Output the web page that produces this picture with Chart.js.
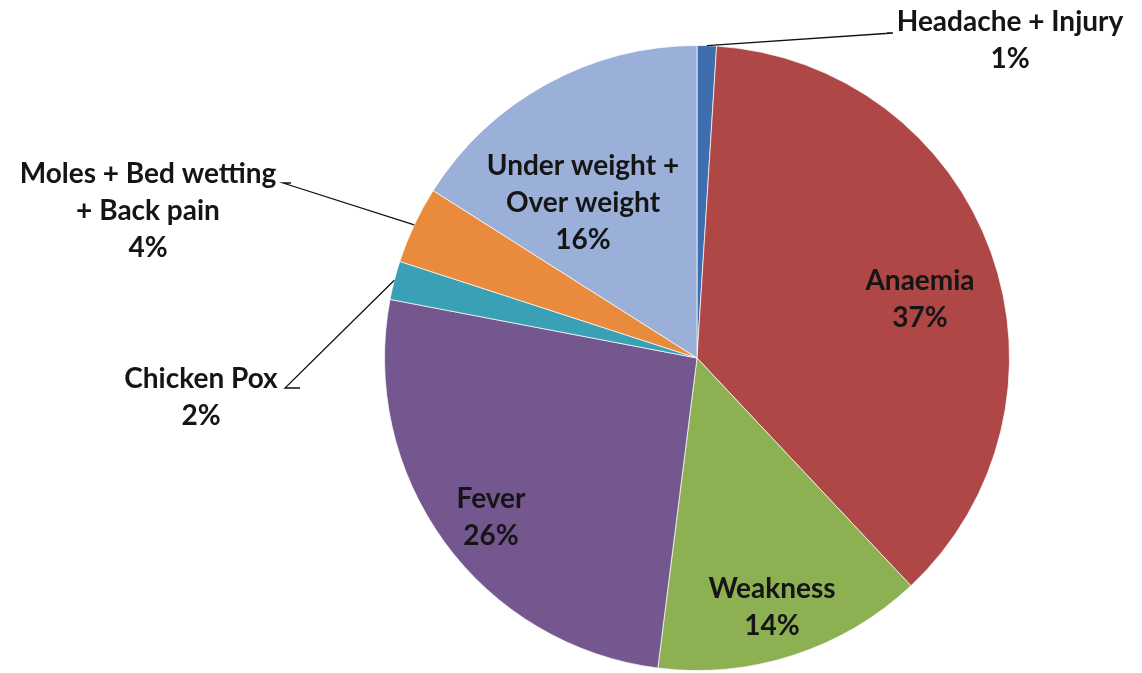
<!DOCTYPE html>
<html>
<head>
<meta charset="utf-8">
<script src="https://cdn.jsdelivr.net/npm/chart.js@4"></script>
<style>
  html, body { margin: 0; padding: 0; background: #fff; }
  #wrap { width: 1142px; height: 673px; position: relative; }
</style>
</head>
<body>
<div id="wrap"><canvas id="chart"></canvas></div>
<script>
const categories = [
    "Headache + Injury",
    "Anaemia",
    "Weakness",
    "Fever",
    "Chicken Pox",
    "Moles + Bed wetting + Back pain",
    "Under weight + Over weight"
];
const shares = [1, 37, 14, 26, 2, 4, 16];
const labelLines = [
    ["Headache + Injury"],
    ["Anaemia"],
    ["Weakness"],
    ["Fever"],
    ["Chicken Pox"],
    ["Moles + Bed wetting", "+ Back pain"],
    ["Under weight +", "Over weight"]
];
const sliceColors = ["#3E6EAE", "#AF4746", "#8DB053", "#74578F", "#3AA0B5", "#EA8A3C", "#9AB0D8"];

// where each label block sits, relative to the pie centre (first line centre)
// leader: points from the text towards the slice edge, null for labels inside
const labelSpots = [
    { dx: 313, dy: -336, leader: [[196, -325], [190, -325]] },
    { dx: 223, dy: -77, leader: null },
    { dx: 75, dy: 231, leader: null },
    { dx: -206, dy: 141, leader: null },
    { dx: -496, dy: 21, leader: [[-412, 30], [-397, 30]] },
    { dx: -549, dy: -184, leader: [[-414, -175], [-406, -175]] },
    { dx: -114, dy: -192, leader: null }
];

const LINE_GAP = 37;

const pieLabels = {
    id: "pieLabels",
    afterDatasetsDraw(chart) {
        const ctx = chart.ctx;
        const arcs = chart.getDatasetMeta(0).data;
        ctx.save();
        ctx.font = "bold 28px Lato";
        ctx.textAlign = "center";
        ctx.textBaseline = "middle";
        ctx.fillStyle = "#151515";
        ctx.strokeStyle = "#111";
        ctx.lineWidth = 1.3;
        arcs.forEach((arc, i) => {
            const p = arc.getProps(["x", "y", "startAngle", "endAngle", "outerRadius"], true);
            const spot = labelSpots[i];
            if (spot.leader) {
                const mid = (p.startAngle + p.endAngle) / 2;
                ctx.beginPath();
                ctx.moveTo(p.x + spot.leader[1][0], p.y + spot.leader[1][1]);
                ctx.lineTo(p.x + spot.leader[0][0], p.y + spot.leader[0][1]);
                ctx.lineTo(p.x + Math.cos(mid) * p.outerRadius, p.y + Math.sin(mid) * p.outerRadius);
                ctx.stroke();
            }
            const lines = labelLines[i].concat([shares[i] + "%"]);
            lines.forEach((t, k) => {
                ctx.fillText(t, p.x + spot.dx, p.y + spot.dy + k * LINE_GAP);
            });
        });
        ctx.restore();
    }
};

new Chart(document.getElementById("chart"), {
    type: "pie",
    data: {
        labels: categories,
        datasets: [{
            data: shares,
            backgroundColor: sliceColors,
            borderColor: "rgba(255,255,255,0.7)",
            borderWidth: 1
        }]
    },
    options: {
        responsive: true,
        maintainAspectRatio: false,
        animation: false,
        layout: { padding: { left: 252, right: 0, top: 45, bottom: 2 } },
        plugins: {
            legend: { display: false },
            tooltip: { enabled: false }
        }
    },
    plugins: [pieLabels]
});
</script>
</body>
</html>
